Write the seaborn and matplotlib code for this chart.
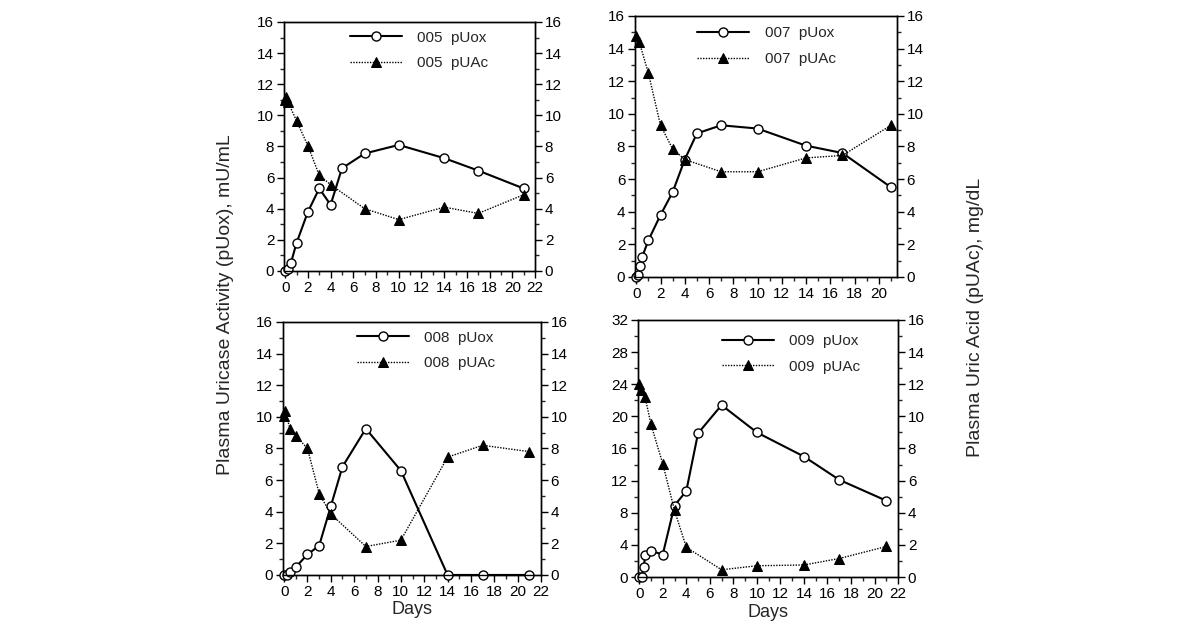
import matplotlib
matplotlib.use("Agg")
import matplotlib.pyplot as plt
from matplotlib.ticker import MultipleLocator
import seaborn as sns
import pandas as pd

# Data (days after dosing)
pid_005_uox_day = [0, 0.25, 0.5, 1, 2, 3, 4, 5, 7, 10, 14, 17, 21]
pid_005_uox = [0, 0.1, 0.5, 1.8, 3.8, 5.3, 4.25, 6.6, 7.55, 8.1, 7.25, 6.45, 5.3]
pid_005_uac_day = [0, 0.1, 0.25, 1, 2, 3, 4, 7, 10, 14, 17, 21]
pid_005_uac = [11.0, 11.2, 10.85, 9.65, 8.05, 6.15, 5.55, 4.0, 3.3, 4.1, 3.7, 4.9]

pid_007_uox_day = [0, 0.17, 0.33, 0.5, 1, 2, 3, 4, 5, 7, 10, 14, 17, 21]
pid_007_uox = [0, 0.15, 0.65, 1.25, 2.25, 3.8, 5.2, 7.2, 8.8, 9.3, 9.1, 8.05, 7.6, 5.5]
pid_007_uac_day = [0, 0.25, 1, 2, 3, 4, 7, 10, 14, 17, 21]
pid_007_uac = [14.8, 14.4, 12.5, 9.3, 7.85, 7.2, 6.45, 6.45, 7.3, 7.45, 9.3]

pid_008_uox_day = [0, 0.25, 0.5, 1, 2, 3, 4, 5, 7, 10, 14, 17, 21]
pid_008_uox = [0, 0, 0.2, 0.5, 1.3, 1.85, 4.35, 6.85, 9.25, 6.6, 0, 0, 0]
pid_008_uac_day = [0, 0.1, 0.5, 1, 2, 3, 4, 7, 10, 14, 17, 21]
pid_008_uac = [10.05, 10.35, 9.25, 8.8, 8.0, 5.15, 3.85, 1.8, 2.2, 7.45, 8.2, 7.8]

pid_009_uox_day = [0, 0.2, 0.4, 0.5, 1, 2, 3, 4, 5, 7, 10, 14, 17, 21]
pid_009_uox = [0, 0, 1.3, 2.8, 3.25, 2.8, 8.9, 10.7, 17.9, 21.4, 18.0, 15.0, 12.1, 9.5]
pid_009_uac_day = [0, 0.17, 0.5, 1, 2, 3, 4, 7, 10, 14, 17, 21]
pid_009_uac = [12.0, 11.65, 11.2, 9.5, 7.05, 4.15, 1.85, 0.45, 0.7, 0.75, 1.15, 1.9]

sns.set_style("ticks")
plt.rcParams["font.family"] = ["Liberation Sans", "DejaVu Sans"]

fig = plt.figure(figsize=(12, 6.34), dpi=100)

# panel settings: id, data, axes rect, xlim, xtick max, left ymax, legend anchor
panels = [
    ("005", pid_005_uox_day, pid_005_uox, pid_005_uac_day, pid_005_uac,
     [0.2367, 0.5726, 0.2092, 0.3927], 22.0, 22, 16, (0.262, 0.965), False),
    ("007", pid_007_uox_day, pid_007_uox, pid_007_uac_day, pid_007_uac,
     [0.5292, 0.5631, 0.2183, 0.4117], 21.5, 20, 16, (0.238, 0.960), False),
    ("008", pid_008_uox_day, pid_008_uox, pid_008_uac_day, pid_008_uac,
     [0.2358, 0.0931, 0.2150, 0.3991], 22.0, 22, 16, (0.287, 0.965), True),
    ("009", pid_009_uox_day, pid_009_uox, pid_009_uac_day, pid_009_uac,
     [0.5317, 0.0899, 0.2167, 0.4054], 22.0, 22, 32, (0.323, 0.945), True),
]

for pid, ux, uy, ax_, ay, rect, xmax, xtmax, ymax, anchor, show_days in panels:
    ax = fig.add_axes(rect)
    ax2 = ax.twinx()

    df_uox = pd.DataFrame({"day": ux, "val": uy})
    df_uac = pd.DataFrame({"day": ax_, "val": ay})

    sns.lineplot(data=df_uox, x="day", y="val", ax=ax, estimator=None, sort=False,
                 color="black", lw=1.5, marker="o", markersize=6.5,
                 markerfacecolor="white", markeredgecolor="black",
                 markeredgewidth=1.0, clip_on=False, zorder=5,
                 label=pid + "  pUox", legend=False)
    sns.lineplot(data=df_uac, x="day", y="val", ax=ax2, estimator=None, sort=False,
                 color="black", lw=1.0, linestyle=(0, (1, 1)), marker="^",
                 markersize=7, markerfacecolor="black", markeredgecolor="black",
                 clip_on=False, label=pid + "  pUAc", legend=False)

    ax.set_xlim(-0.1, xmax)
    ax.set_ylim(0, ymax)
    ax2.set_ylim(0, 16)
    ax.set_xticks(range(0, xtmax + 1, 2))
    ax.xaxis.set_minor_locator(MultipleLocator(1))
    ax.set_yticks(range(0, ymax + 1, ymax // 8))
    ax.yaxis.set_minor_locator(MultipleLocator(ymax // 16))
    ax2.set_yticks(range(0, 17, 2))
    ax2.yaxis.set_minor_locator(MultipleLocator(1))

    for a in (ax, ax2):
        a.set_xlabel("")
        a.set_ylabel("")
        for s in a.spines.values():
            s.set_visible(True)
            s.set_linewidth(1.0)
            s.set_color("black")
        a.tick_params(which="major", direction="out", length=5, width=1,
                      labelsize=11, colors="black", pad=2)
        a.tick_params(which="minor", direction="out", length=3, width=1)
    ax.tick_params(axis="y", which="both", left=True, right=False)
    ax2.tick_params(axis="y", which="both", left=False, right=True)
    ax.tick_params(axis="x", which="both", top=False, bottom=True)

    if show_days:
        ax.set_xlabel("Days", fontsize=13, labelpad=2)

    handles = [ax.lines[0], ax2.lines[0]]
    ax2.legend(handles=handles, labels=[pid + "  pUox", pid + "  pUAc"],
               loc="upper left", bbox_to_anchor=anchor, frameon=False,
               fontsize=11, handlelength=3.4, handletextpad=1.0,
               labelspacing=0.75, borderpad=0, borderaxespad=0, numpoints=1)

fig.text(0.188, 0.52, "Plasma Uricase Activity (pUox), mU/mL", rotation=90,
         ha="center", va="center", fontsize=14)
fig.text(0.813, 0.50, "Plasma Uric Acid (pUAc), mg/dL", rotation=90,
         ha="center", va="center", fontsize=14)

plt.savefig("out.png", dpi=100)
